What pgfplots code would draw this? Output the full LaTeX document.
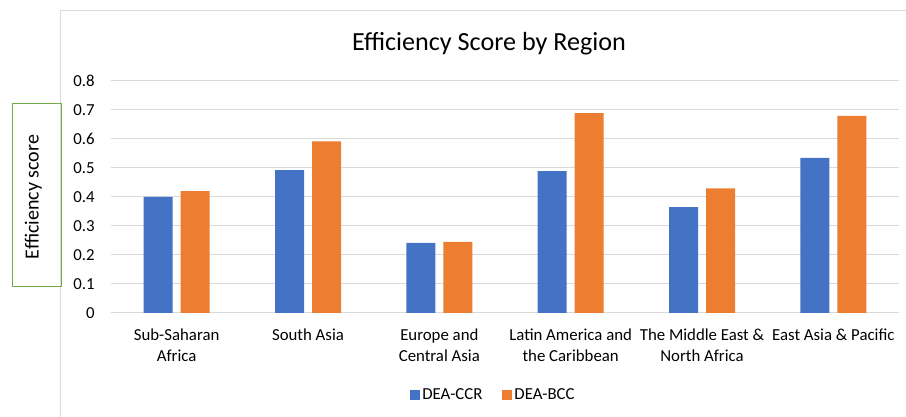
\documentclass[border=0pt]{standalone}
\usepackage{fontspec}
\setmainfont{Carlito}
\usepackage{pgfplots}
\pgfplotsset{compat=1.18}
\definecolor{ccr}{HTML}{4472C4}
\definecolor{bcc}{HTML}{ED7D31}
\definecolor{gridc}{HTML}{D9D9D9}
\definecolor{framec}{HTML}{D9D9D9}
\definecolor{boxg}{HTML}{70AD47}
\begin{document}
\begin{tikzpicture}
\path[use as bounding box] (0,0) rectangle (679.5pt,312.75pt);
\draw[framec, line width=0.75pt] (45pt,0) -- (45pt,304.5pt) -- (679.5pt,304.5pt);
\draw[boxg, line width=0.75pt] (9pt,97.5pt) rectangle (45.75pt,234.75pt);
\node[rotate=90, anchor=base, font=\fontsize{15}{18}\selectfont] at (29pt,165pt) {Efficiency score};
\node[font=\fontsize{19.6}{23}\selectfont] at (366.75pt,279.75pt) {Efficiency Score by Region};
\begin{axis}[
  at={(83.25pt,78pt)}, anchor=south west, scale only axis,
  width=591pt, height=174pt,
  xmin=-0.5, xmax=5.5, ymin=0, ymax=0.8,
  ybar=6pt, bar width=21.75pt,
  xtick={0,1,2,3,4,5},
  xticklabels={{Sub-Saharan\\Africa},{South Asia},{Europe and\\Central Asia},{Latin America and\\the Caribbean},{The Middle East \&\\North Africa},{East Asia \& Pacific}},
  ytick={0,0.1,0.2,0.3,0.4,0.5,0.6,0.7,0.8},
  /pgf/number format/assume math mode=true,
  ymajorgrids, grid style={gridc, line width=0.75pt},
  axis line style={draw=none},
  major tick length=0pt, tick style={draw=none},
  ticklabel style={font=\fontsize{12.6}{15.75}\selectfont},
  xticklabel style={anchor=north, align=center, inner sep=0pt, yshift=-12pt},
  yticklabel style={anchor=east, inner sep=0pt, xshift=-12pt},
  legend style={at={(0.4854,-0.353)}, anchor=center, draw=none, fill=none,
    font=\fontsize{12.6}{15.75}\selectfont, legend columns=2,
    nodes={inner xsep=1.5pt, inner ysep=0pt},
    /tikz/every even column/.append style={column sep=13.5pt}},
  legend cell align=left,
]
\addplot[fill=ccr, draw=none, legend image code/.code={\fill[ccr] (0pt,-3.75pt) rectangle (7.5pt,3.75pt);}] coordinates {(0,0.400) (1,0.493) (2,0.242) (3,0.489) (4,0.365) (5,0.535)};
\addplot[fill=bcc, draw=none, legend image code/.code={\fill[bcc] (0pt,-3.75pt) rectangle (7.5pt,3.75pt);}] coordinates {(0,0.420) (1,0.592) (2,0.245) (3,0.689) (4,0.430) (5,0.680)};
\legend{DEA-CCR, DEA-BCC}
\end{axis}
\end{tikzpicture}
\end{document}
